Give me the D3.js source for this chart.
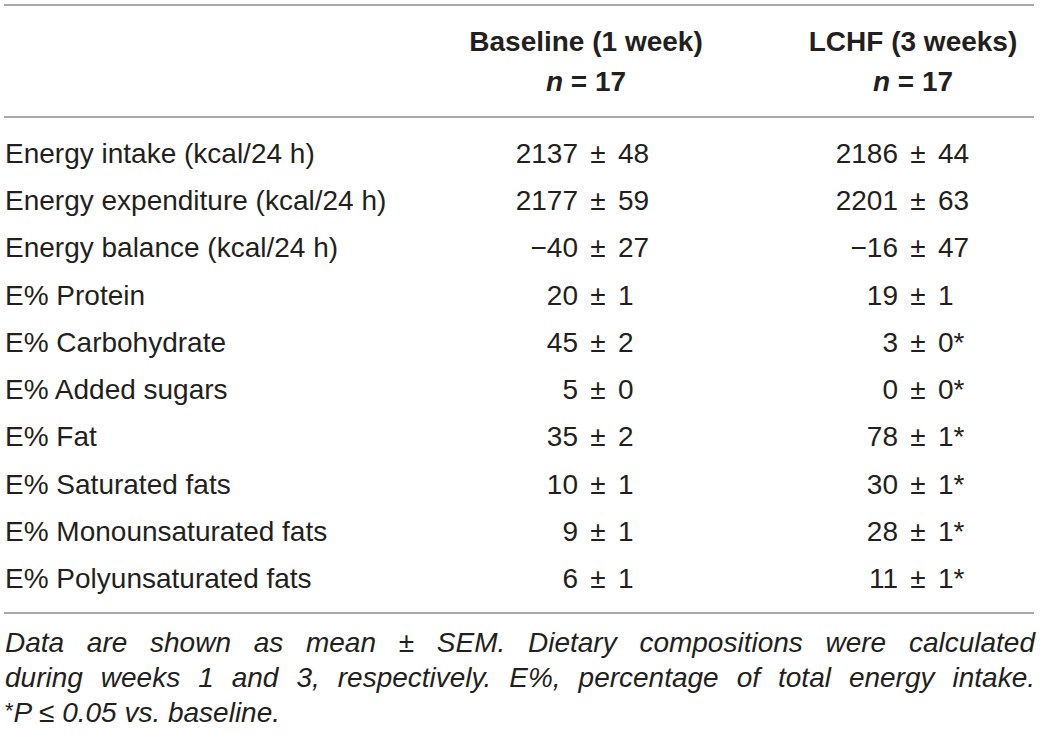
<!DOCTYPE html>
<html>
<head>
<meta charset="utf-8">
<script src="https://cdn.jsdelivr.net/npm/d3@7/dist/d3.min.js"></script>
<style>
  html, body { margin: 0; padding: 0; background: #fff; }
  svg { display: block; }
  text { font-family: "Liberation Sans", Arial, Helvetica, sans-serif; fill: #231f20; }
</style>
</head>
<body>
<svg id="chart" width="1040" height="735"></svg>
<script>
// ---- data ----
const rowLabels = [
  "Energy intake (kcal/24 h)",
  "Energy expenditure (kcal/24 h)",
  "Energy balance (kcal/24 h)",
  "E% Protein",
  "E% Carbohydrate",
  "E% Added sugars",
  "E% Fat",
  "E% Saturated fats",
  "E% Monounsaturated fats",
  "E% Polyunsaturated fats"
];
const baselineMean = [2137, 2177, -40, 20, 45, 5, 35, 10, 9, 6];
const baselineSem  = [48, 59, 27, 1, 2, 0, 2, 1, 1, 1];
const lchfMean     = [2186, 2201, -16, 19, 3, 0, 78, 30, 28, 11];
const lchfSem      = [44, 63, 47, 1, 0, 0, 1, 1, 1, 1];
const lchfSignificant = [false, false, false, false, true, true, true, true, true, true];
const columnHeaders = ["Baseline (1 week)", "LCHF (3 weeks)"];
const groupN = [17, 17];
const footnoteLines = [
  "Data are shown as mean \u00B1 SEM. Dietary compositions were calculated",
  "during weeks 1 and 3, respectively. E%, percentage of total energy intake.",
  "*P \u2264 0.05 vs. baseline."
];

// ---- layout ----
const svg = d3.select("#chart");
const W = 1040;
const ruleX0 = 4, ruleX1 = 1034;
const fontSize = 28;

const y = d3.scalePoint().domain(rowLabels).range([163, 588]);
const colX = d3.scalePoint().domain(columnHeaders).range([598, 918]);   // ± sign centres
const headX = d3.scalePoint().domain(columnHeaders).range([586, 913]);  // header centres

const fmt = v => (v < 0 ? "\u2212" + Math.abs(v) : String(v));

// rules
[5, 117, 613].forEach(ry => {
  svg.append("line")
    .attr("x1", ruleX0).attr("x2", ruleX1)
    .attr("y1", ry).attr("y2", ry)
    .attr("stroke", "#8c8c8c").attr("stroke-width", 1.6);
});

// headers
columnHeaders.forEach((h, i) => {
  svg.append("text")
    .attr("x", headX(h)).attr("y", 51)
    .attr("text-anchor", "middle")
    .attr("font-size", fontSize).attr("font-weight", "bold")
    .text(h);
  const t = svg.append("text")
    .attr("x", headX(h)).attr("y", 91)
    .attr("text-anchor", "middle")
    .attr("font-size", fontSize).attr("font-weight", "bold");
  t.append("tspan").attr("font-style", "italic").text("n");
  t.append("tspan").text(" = " + groupN[i]);
});

// row labels
svg.selectAll("text.label")
  .data(rowLabels)
  .join("text")
  .attr("class", "label")
  .attr("x", 5)
  .attr("y", d => y(d))
  .attr("font-size", fontSize)
  .text(d => d);

// value cells aligned on the ± sign
const gap = 20;
function drawCells(colName, means, sems, sig) {
  const cx = colX(colName);
  const g = svg.append("g");
  rowLabels.forEach((lab, i) => {
    g.append("text").attr("x", cx - gap).attr("y", y(lab))
      .attr("text-anchor", "end").attr("font-size", fontSize)
      .text(fmt(means[i]));
    g.append("text").attr("x", cx).attr("y", y(lab))
      .attr("text-anchor", "middle").attr("font-size", fontSize)
      .text("\u00B1");
    g.append("text").attr("x", cx + gap).attr("y", y(lab))
      .attr("text-anchor", "start").attr("font-size", fontSize)
      .text(fmt(sems[i]) + (sig && sig[i] ? "*" : ""));
  });
}
drawCells(columnHeaders[0], baselineMean, baselineSem, null);
drawCells(columnHeaders[1], lchfMean, lchfSem, lchfSignificant);

// footnote (justified first two lines)
const footY = [652, 687, 722];
const footLeft = 5, footRight = 1035;
footnoteLines.forEach((line, i) => {
  const t = svg.append("text")
    .attr("x", footLeft).attr("y", footY[i])
    .attr("font-size", fontSize).attr("font-style", "italic");
  if (i === 2) {
    t.append("tspan").attr("font-style", "normal").attr("font-size", 22).attr("dy", -4).text("*");
    t.append("tspan").attr("dy", 4).text(line.slice(1));
  } else {
    t.text(line);
    const natural = t.node().getComputedTextLength();
    const spaces = (line.match(/ /g) || []).length;
    const extra = (footRight - footLeft - natural) / spaces;
    t.attr("word-spacing", extra);
  }
});
</script>
</body>
</html>
